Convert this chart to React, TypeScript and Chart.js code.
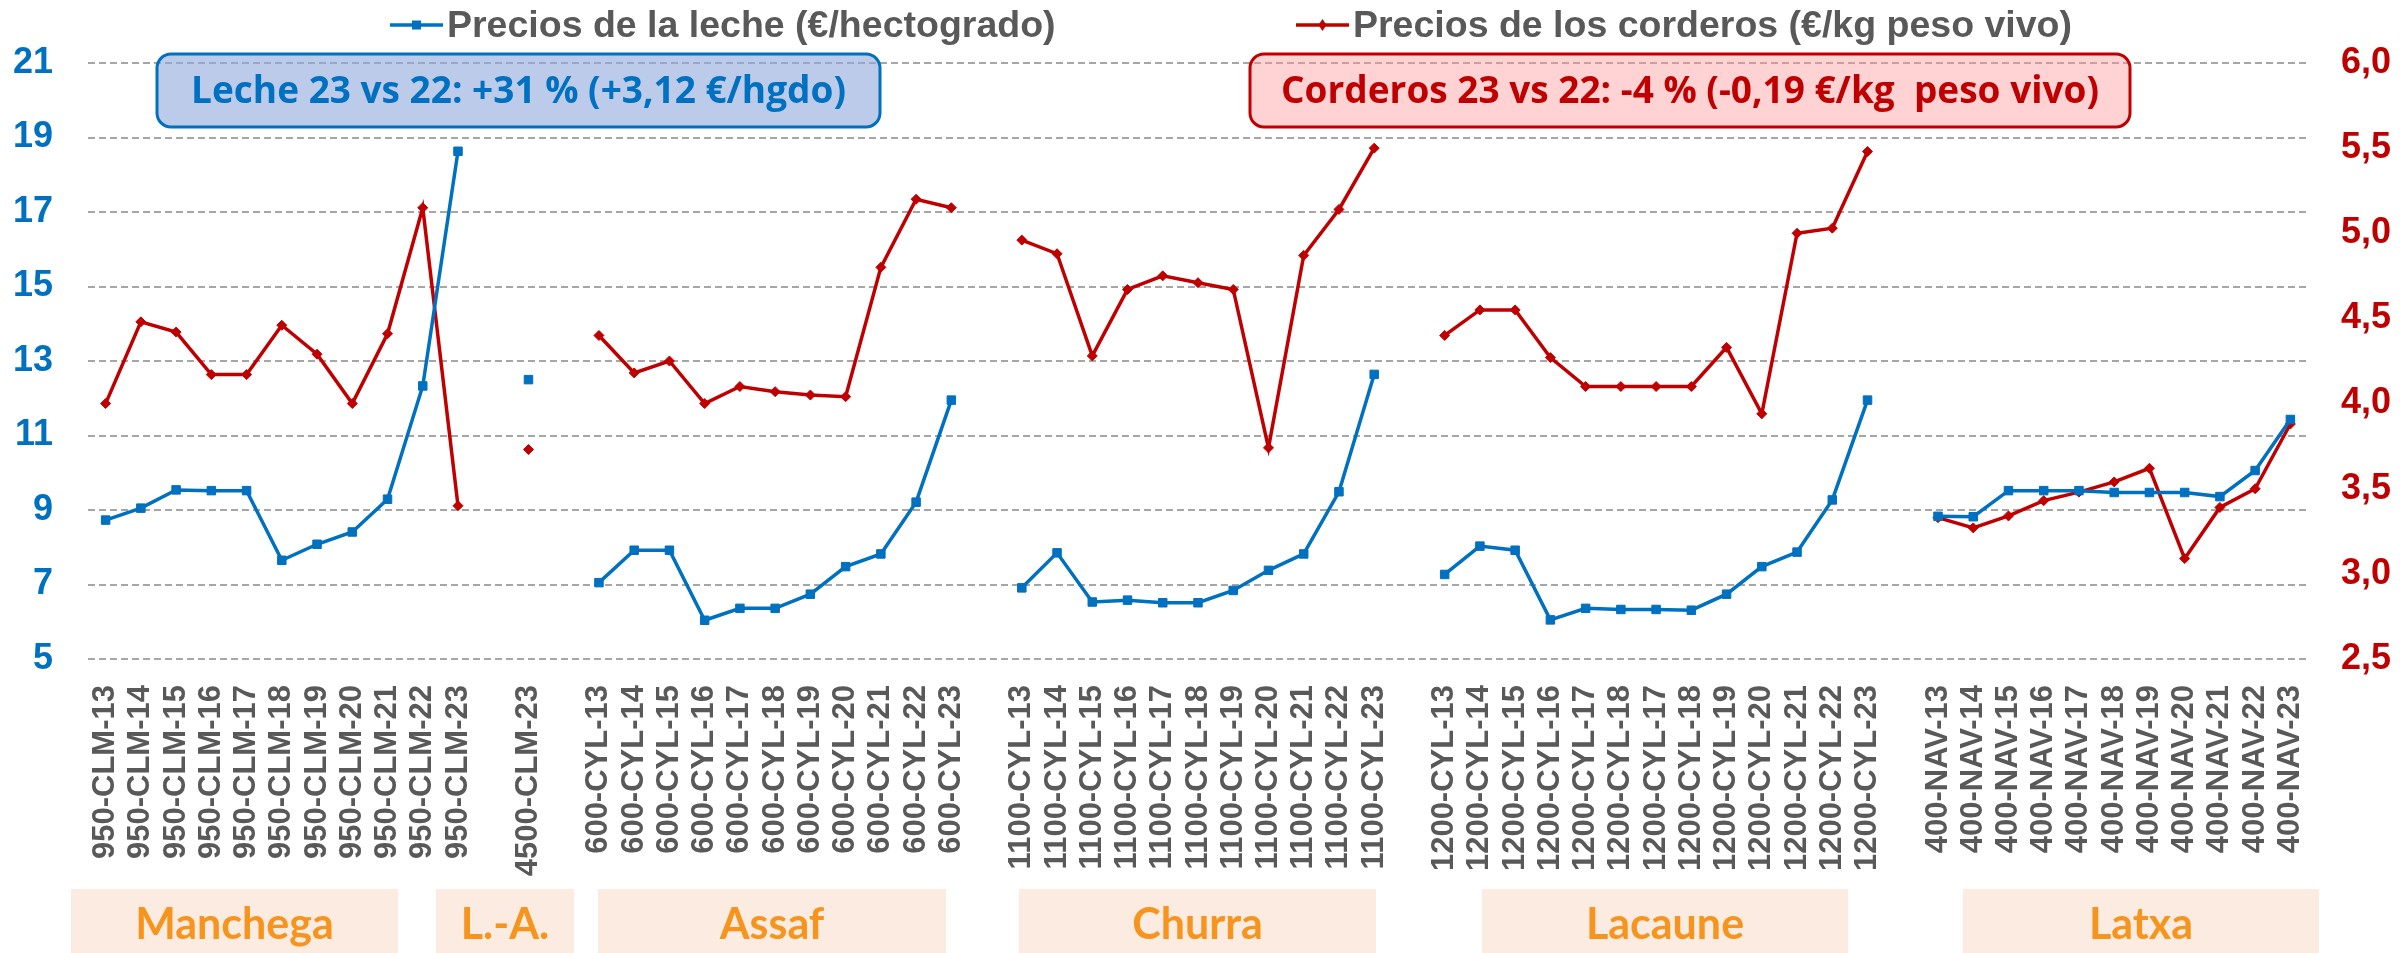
import React, { useEffect, useRef } from 'react';
import { Chart, registerables } from 'chart.js';

Chart.register(...registerables);

// ---- Data ----
const manchegaLabels = ['950-CLM-13', '950-CLM-14', '950-CLM-15', '950-CLM-16', '950-CLM-17', '950-CLM-18', '950-CLM-19', '950-CLM-20', '950-CLM-21', '950-CLM-22', '950-CLM-23'];
const manchegaLeche = [8.73, 9.05, 9.54, 9.52, 9.52, 7.65, 8.08, 8.41, 9.29, 12.33, 18.63];
const manchegaCorderos = [4.0, 4.48, 4.42, 4.17, 4.17, 4.46, 4.29, 4.0, 4.41, 5.15, 3.4];

const laLabels = ['4500-CLM-23'];
const laLeche = [12.5];
const laCorderos = [3.73];

const assafLabels = ['600-CYL-13', '600-CYL-14', '600-CYL-15', '600-CYL-16', '600-CYL-17', '600-CYL-18', '600-CYL-19', '600-CYL-20', '600-CYL-21', '600-CYL-22', '600-CYL-23'];
const assafLeche = [7.05, 7.92, 7.92, 6.04, 6.36, 6.36, 6.74, 7.48, 7.82, 9.21, 11.95];
const assafCorderos = [4.4, 4.18, 4.25, 4.0, 4.1, 4.07, 4.05, 4.04, 4.8, 5.2, 5.15];

const churraLabels = ['1100-CYL-13', '1100-CYL-14', '1100-CYL-15', '1100-CYL-16', '1100-CYL-17', '1100-CYL-18', '1100-CYL-19', '1100-CYL-20', '1100-CYL-21', '1100-CYL-22', '1100-CYL-23'];
const churraLeche = [6.91, 7.85, 6.53, 6.58, 6.51, 6.51, 6.84, 7.38, 7.82, 9.49, 12.64];
const churraCorderos = [4.96, 4.88, 4.28, 4.67, 4.75, 4.71, 4.67, 3.74, 4.87, 5.14, 5.5];

const lacauneLabels = ['1200-CYL-13', '1200-CYL-14', '1200-CYL-15', '1200-CYL-16', '1200-CYL-17', '1200-CYL-18', '1200-CYL-17', '1200-CYL-18', '1200-CYL-19', '1200-CYL-20', '1200-CYL-21', '1200-CYL-22', '1200-CYL-23'];
const lacauneLeche = [7.27, 8.03, 7.92, 6.05, 6.36, 6.33, 6.33, 6.31, 6.74, 7.48, 7.87, 9.27, 11.95];
const lacauneCorderos = [4.4, 4.55, 4.55, 4.27, 4.1, 4.1, 4.1, 4.1, 4.33, 3.94, 5.0, 5.03, 5.48];

const latxaLabels = ['400-NAV-13', '400-NAV-14', '400-NAV-15', '400-NAV-16', '400-NAV-17', '400-NAV-18', '400-NAV-19', '400-NAV-20', '400-NAV-21', '400-NAV-22', '400-NAV-23'];
const latxaLeche = [8.83, 8.82, 9.52, 9.52, 9.52, 9.47, 9.47, 9.47, 9.36, 10.06, 11.43];
const latxaCorderos = [3.33, 3.27, 3.34, 3.43, 3.48, 3.54, 3.62, 3.09, 3.39, 3.5, 3.88];

const groupNames = ['Manchega', 'L.-A.', 'Assaf', 'Churra', 'Lacaune', 'Latxa'];
const seriesNames = ['Precios de la leche (€/hectogrado)', 'Precios de los corderos (€/kg peso vivo)'];
const lecheNote = 'Leche 23 vs 22: +31 % (+3,12 €/hgdo)';
const corderosNote = 'Corderos 23 vs 22: -4 % (-0,19 €/kg  peso vivo)';

const leftTicks = { min: 5, max: 21, step: 2 };
const rightTicks = { min: 2.5, max: 6, step: 0.5 };

// ---- Build table ----
const groupData = [
  [manchegaLabels, manchegaLeche, manchegaCorderos],
  [laLabels, laLeche, laCorderos],
  [assafLabels, assafLeche, assafCorderos],
  [churraLabels, churraLeche, churraCorderos],
  [lacauneLabels, lacauneLeche, lacauneCorderos],
  [latxaLabels, latxaLeche, latxaCorderos],
] as [string[], number[], number[]][];

const categories: string[] = [];
const lecheValues: (number | null)[] = [];
const corderosValues: (number | null)[] = [];
groupData.forEach(([labs, le, co], i) => {
  if (i > 0) {
    categories.push('');
    lecheValues.push(null);
    corderosValues.push(null);
  }
  labs.forEach((l, j) => {
    categories.push(l);
    lecheValues.push(le[j]);
    corderosValues.push(co[j]);
  });
});

const BLUE = '#0070C0';
const RED = '#C00000';
const GRAY_TEXT = '#595959';
const SANS = '"Liberation Sans", Arial, sans-serif';

// layout (styling only)
const groupBoxes = [
  [71, 398],
  [436, 574],
  [598, 946],
  [1019, 1376],
  [1482, 1848],
  [1963, 2319],
];

const decorPlugin = {
  id: 'decor',
  beforeDatasetsDraw(chart: any) {
    const ctx = chart.ctx as CanvasRenderingContext2D;
    const drawNote = (x0: number, x1: number, fill: string, stroke: string, text: string) => {
      ctx.save();
      ctx.beginPath();
      (ctx as any).roundRect(x0, 54, x1 - x0, 73, 14);
      ctx.fillStyle = fill;
      ctx.fill();
      ctx.lineWidth = 3;
      ctx.strokeStyle = stroke;
      ctx.stroke();
      ctx.fillStyle = stroke;
      ctx.font = 'bold 37px "Open Sans", sans-serif';
      ctx.textAlign = 'center';
      ctx.textBaseline = 'middle';
      ctx.fillText(text, (x0 + x1) / 2, 92);
      ctx.restore();
    };
    drawNote(157, 880, 'rgba(142,169,219,0.6)', BLUE, lecheNote);
    drawNote(1250, 2130, 'rgba(255,150,150,0.42)', RED, corderosNote);
  },
  afterDraw(chart: any) {
    const ctx = chart.ctx as CanvasRenderingContext2D;
    ctx.save();
    // legend
    const items = [
      { x: 390, color: BLUE, style: 'rect', text: seriesNames[0] },
      { x: 1296, color: RED, style: 'rectRot', text: seriesNames[1] },
    ];
    items.forEach((it) => {
      const y = 25;
      ctx.strokeStyle = it.color;
      ctx.lineWidth = 3.5;
      ctx.beginPath();
      ctx.moveTo(it.x, y);
      ctx.lineTo(it.x + 53, y);
      ctx.stroke();
      ctx.fillStyle = it.color;
      const cx = it.x + 26.5;
      ctx.beginPath();
      if (it.style === 'rect') {
        ctx.rect(cx - 4.5, y - 4.5, 9, 9);
      } else {
        ctx.moveTo(cx - 4, y);
        ctx.lineTo(cx, y - 6);
        ctx.lineTo(cx + 4, y);
        ctx.lineTo(cx, y + 6);
        ctx.closePath();
      }
      ctx.fill();
      ctx.fillStyle = GRAY_TEXT;
      ctx.font = 'bold 37.5px ' + SANS;
      ctx.textAlign = 'left';
      ctx.textBaseline = 'middle';
      ctx.fillText(it.text, it.x + 57, y + 2);
    });
    // group boxes
    groupBoxes.forEach(([x0, x1], i) => {
      ctx.fillStyle = '#FBEBE1';
      ctx.fillRect(x0, 889, x1 - x0, 64);
      ctx.fillStyle = '#F7941D';
      ctx.font = 'bold 43px Lato, sans-serif';
      ctx.textAlign = 'center';
      ctx.textBaseline = 'middle';
      ctx.fillText(groupNames[i], (x0 + x1) / 2, 925);
    });
    ctx.restore();
  },
};

export default function App() {
  const ref = useRef<HTMLCanvasElement | null>(null);
  useEffect(() => {
    if (!ref.current) return;
    Chart.defaults.font.family = SANS;
    const chart = new Chart(ref.current, {
      type: 'line',
      data: {
        labels: categories,
        datasets: [
          {
            label: seriesNames[0],
            data: lecheValues,
            yAxisID: 'y',
            borderColor: BLUE,
            backgroundColor: BLUE,
            borderWidth: 3.5,
            pointStyle: 'rect',
            pointRadius: 6,
            pointBorderWidth: 1,
            pointBorderColor: BLUE,
            pointBackgroundColor: BLUE,
            tension: 0,
            order: 1,
          },
          {
            label: seriesNames[1],
            data: corderosValues,
            yAxisID: 'y1',
            borderColor: RED,
            backgroundColor: RED,
            borderWidth: 3.5,
            pointStyle: 'rectRot',
            pointRadius: 5,
            pointBorderWidth: 1,
            pointBorderColor: RED,
            pointBackgroundColor: RED,
            tension: 0,
            order: 2,
          },
        ],
      },
      options: {
        responsive: false,
        animation: false,
        events: [],
        layout: { padding: { top: 63, left: 0, right: 0, bottom: 0 } },
        plugins: {
          legend: { display: false },
          tooltip: { enabled: false },
        },
        scales: {
          x: {
            type: 'category',
            offset: true,
            grid: { display: false },
            border: { display: false },
            ticks: {
              autoSkip: false,
              maxRotation: 90,
              minRotation: 90,
              padding: 18,
              color: GRAY_TEXT,
              font: { family: SANS, size: 31, weight: 'bold' },
            },
            afterFit: (s: any) => {
              s.height = 294;
            },
          },
          y: {
            position: 'left',
            min: leftTicks.min,
            max: leftTicks.max,
            ticks: {
              stepSize: leftTicks.step,
              padding: 35,
              color: BLUE,
              font: { family: SANS, size: 36, weight: 'bold' },
            },
            grid: { color: '#A6A6A6', lineWidth: 2, drawTicks: false },
            border: { display: false, dash: [7, 4] },
            afterFit: (s: any) => {
              s.width = 88;
            },
          },
          y1: {
            position: 'right',
            min: rightTicks.min,
            max: rightTicks.max,
            ticks: {
              stepSize: rightTicks.step,
              padding: 33,
              color: RED,
              font: { family: SANS, size: 36, weight: 'bold' },
              callback: (v: any) => Number(v).toFixed(1).replace('.', ','),
            },
            grid: { display: false, drawTicks: false },
            border: { display: false },
            afterFit: (s: any) => {
              s.width = 92;
            },
          },
        },
      },
      plugins: [decorPlugin],
    } as any);
    return () => chart.destroy();
  }, []);
  return (
    <div style={{ position: 'fixed', left: 0, top: 0, width: 2400, height: 953, background: '#fff' }}>
      <canvas ref={ref} width={2400} height={953} style={{ display: 'block' }} />
    </div>
  );
}
